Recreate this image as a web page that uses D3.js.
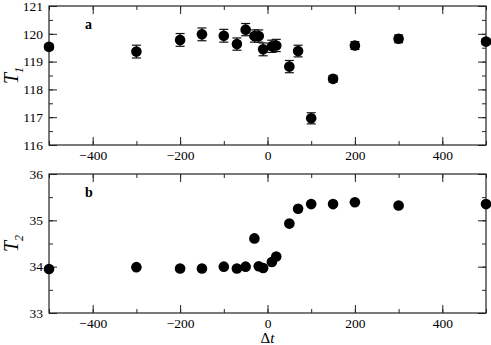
<!DOCTYPE html>
<html>
<head>
<meta charset="utf-8">
<script src="https://cdn.jsdelivr.net/npm/d3@7"></script>
<style>
  body { margin: 0; background: #fff; }
  svg text { font-family: 'Liberation Serif', 'Times New Roman', serif; }
</style>
</head>
<body>
<svg class="chart" width="491" height="345"></svg>
<script>
// delta t positions shared by both panels
var dtT1 = [-500, -300, -200, -150, -100, -70, -50, -30, -20, -10, 10, 20, 50, 70, 100, 150, 200, 300, 500];
var t1 = [119.53, 119.36, 119.78, 119.98, 119.93, 119.63, 120.15, 119.92, 119.92, 119.44, 119.55, 119.58, 118.82, 119.38, 116.96, 118.38, 119.58, 119.82, 119.72];
var t1Err = [0.1, 0.23, 0.23, 0.23, 0.23, 0.22, 0.22, 0.22, 0.22, 0.23, 0.22, 0.22, 0.22, 0.21, 0.2, 0.12, 0.14, 0.14, 0.1];

var dtT2 = [-500, -300, -200, -150, -100, -70, -50, -30, -20, -10, 10, 20, 50, 70, 100, 150, 200, 300, 500];
var t2 = [33.95, 33.99, 33.96, 33.96, 34.0, 33.96, 34.0, 34.61, 34.01, 33.97, 34.1, 34.22, 34.93, 35.25, 35.35, 35.35, 35.39, 35.32, 35.35];

var xTicks = [-400, -200, 0, 200, 400];
var t1Ticks = [116, 117, 118, 119, 120, 121];
var t2Ticks = [33, 34, 35, 36];

var svg = d3.select(".chart");
var left = 49, right = 486;
var serif = "'Liberation Serif', 'Times New Roman', serif";

var x = d3.scaleLinear().domain([-500, 500]).range([left, right]);

function noDomain(a) { a.select(".domain").remove(); }

function panel(opts) {
  var y = d3.scaleLinear().domain(opts.domain).range([opts.bottom, opts.top]);
  var g = svg.append("g");
  var minorX = d3.range(-500, 501, 100);
  var minorY = d3.range(opts.domain[0], opts.domain[1] + 0.001, 0.5);

  // inward ticks on all four sides
  g.append("g")
    .attr("transform", "translate(0," + opts.bottom + ")")
    .call(d3.axisBottom(x).tickValues(minorX).tickSize(-4).tickFormat(""))
    .call(noDomain);
  g.append("g")
    .attr("transform", "translate(0," + opts.bottom + ")")
    .call(d3.axisBottom(x).tickValues(xTicks).tickSize(-8).tickPadding(5).tickFormat(d3.format("d")))
    .call(noDomain);
  g.append("g")
    .attr("transform", "translate(0," + opts.top + ")")
    .call(d3.axisTop(x).tickValues(minorX).tickSize(-4).tickFormat(""))
    .call(noDomain);
  g.append("g")
    .attr("transform", "translate(0," + opts.top + ")")
    .call(d3.axisTop(x).tickValues(xTicks).tickSize(-8).tickFormat(""))
    .call(noDomain);
  g.append("g")
    .attr("transform", "translate(" + left + ",0)")
    .call(d3.axisLeft(y).tickValues(minorY).tickSize(-4).tickFormat(""))
    .call(noDomain);
  g.append("g")
    .attr("transform", "translate(" + left + ",0)")
    .call(d3.axisLeft(y).tickValues(opts.ticks).tickSize(-8).tickPadding(6).tickFormat(d3.format("d")))
    .call(noDomain);
  g.append("g")
    .attr("transform", "translate(" + right + ",0)")
    .call(d3.axisRight(y).tickValues(minorY).tickSize(-4).tickFormat(""))
    .call(noDomain);
  g.append("g")
    .attr("transform", "translate(" + right + ",0)")
    .call(d3.axisRight(y).tickValues(opts.ticks).tickSize(-8).tickFormat(""))
    .call(noDomain);

  g.selectAll(".tick line").attr("stroke", "#222");
  g.selectAll(".tick text")
    .style("font-family", serif)
    .attr("font-size", 13.5)
    .attr("fill", "#000");

  g.append("rect")
    .attr("x", left).attr("y", opts.top)
    .attr("width", right - left).attr("height", opts.bottom - opts.top)
    .attr("fill", "none").attr("stroke", "#222").attr("stroke-width", 1.2);

  if (opts.err) {
    var eb = g.append("g").attr("stroke", "#111").attr("stroke-width", 1.2);
    opts.xs.forEach(function(d, i) {
      var cx = x(d), lo = y(opts.ys[i] - opts.err[i]), hi = y(opts.ys[i] + opts.err[i]);
      eb.append("line").attr("x1", cx).attr("x2", cx).attr("y1", lo).attr("y2", hi);
      eb.append("line").attr("x1", cx - 4.5).attr("x2", cx + 4.5).attr("y1", lo).attr("y2", lo);
      eb.append("line").attr("x1", cx - 4.5).attr("x2", cx + 4.5).attr("y1", hi).attr("y2", hi);
    });
  }

  g.selectAll("circle.pt")
    .data(opts.xs)
    .enter()
    .append("circle")
    .attr("cx", function(d) { return x(d); })
    .attr("cy", function(d, i) { return y(opts.ys[i]); })
    .attr("r", 5.3)
    .attr("fill", "#000");

  g.append("text")
    .attr("x", 85).attr("y", opts.top + 23)
    .attr("font-weight", "bold").attr("font-size", 14)
    .text(opts.tag);

  var lab = g.append("text")
    .attr("transform", "translate(18," + ((opts.top + opts.bottom) / 2) + ") rotate(-90)")
    .attr("text-anchor", "middle")
    .attr("font-size", 20)
    .attr("font-style", "italic");
  lab.append("tspan").text("T");
  lab.append("tspan").attr("font-size", 12).attr("dy", 5).text(opts.sub);
}

panel({ top: 6, bottom: 145, domain: [116, 121], ticks: t1Ticks, xs: dtT1, ys: t1, err: t1Err, tag: "a", sub: "1" });
panel({ top: 174, bottom: 313, domain: [33, 36], ticks: t2Ticks, xs: dtT2, ys: t2, tag: "b", sub: "2" });

var xl = svg.append("text")
  .attr("x", x(0)).attr("y", 343)
  .attr("text-anchor", "middle")
  .attr("font-size", 15);
xl.append("tspan").text("Δ");
xl.append("tspan").attr("font-style", "italic").text("t");
</script>
</body>
</html>
